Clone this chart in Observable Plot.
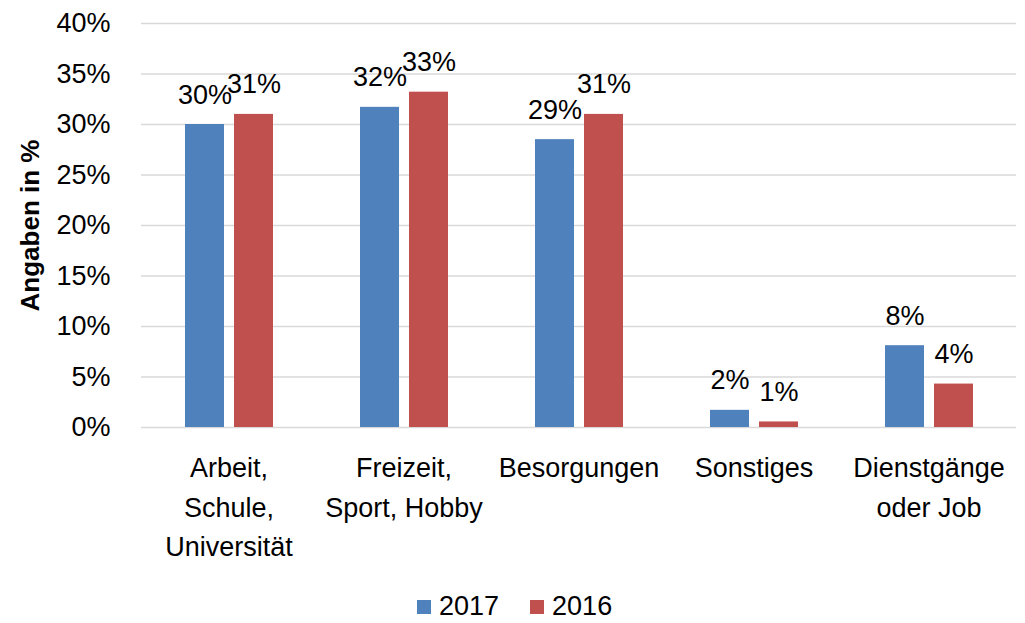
<!DOCTYPE html>
<html><head><meta charset="utf-8">
<script src="https://cdn.jsdelivr.net/npm/d3@7"></script>
<script src="https://cdn.jsdelivr.net/npm/@observablehq/plot@0.6"></script>
<style>
body{margin:0;background:#fff;font-family:"Liberation Sans",Arial,sans-serif;}
[class$="-swatch"]{margin-right:31px !important;}
[class$="-swatch"] > svg{margin-right:8px !important;}
</style></head><body><div id="chart"></div>
<script>
const categories = ["Arbeit,\nSchule,\nUniversität", "Freizeit,\nSport, Hobby", "Besorgungen", "Sonstiges", "Dienstgänge\noder Job"];
const years = ["2017", "2016"];
const values2017 = [30.0, 31.7, 28.5, 1.7, 8.1];
const values2016 = [31.0, 33.2, 31.0, 0.55, 4.3];
const yTicks = [0, 5, 10, 15, 20, 25, 30, 35, 40];
const colors = ["#4F81BD", "#C0504D"];

const data = categories.flatMap((c, i) => [
  {cat: c, year: years[0], value: values2017[i]},
  {cat: c, year: years[1], value: values2016[i]}
]);

const font = "'Liberation Sans', Arial, sans-serif";
const plot = Plot.plot({
  width: 1025, height: 590,
  marginLeft: 140, marginRight: 8, marginTop: 23, marginBottom: 163,
  style: {fontFamily: font, fontSize: "27px", color: "#000", background: "#fff"},
  fx: {domain: categories, padding: 0, label: null},
  x: {domain: years, paddingInner: 0.21, paddingOuter: 0.859, axis: null},
  y: {domain: [0, 40], label: null},
  color: {domain: years, range: colors},
  marks: [
    Plot.gridY(yTicks, {stroke: "#d9d9d9", strokeOpacity: 1, strokeWidth: 1.5}),
    Plot.barY(data, {fx: "cat", x: "year", y: "value", fill: "year"}),
    Plot.text(data, {fx: "cat", x: "year", y: "value", text: d => Math.round(d.value) + "%", lineAnchor: "bottom", dy: -21, fill: "#000", fontSize: 27}),
    Plot.axisY(yTicks, {tickSize: 0, tickPadding: 31, tickFormat: d => d + "%", label: null, fontSize: 27}),
    Plot.axisFx({anchor: "bottom", tickSize: 0, tickPadding: 22, lineHeight: 1.46, fontSize: 27, label: null}),
    Plot.text([{cat: categories[0], t: "Angaben in %"}], {fx: "cat", frameAnchor: "left", textAnchor: "middle", text: "t", rotate: -90, dx: -111, fontWeight: "bold", fontSize: 26, fill: "#000"})
  ]
});
const chart = document.getElementById("chart");
chart.appendChild(plot);
const leg = plot.legend("color", {swatchSize: 14, marginLeft: 417, style: {fontSize: "27px", fontFamily: font, color: "#000"}});
chart.appendChild(leg);
</script></body></html>
